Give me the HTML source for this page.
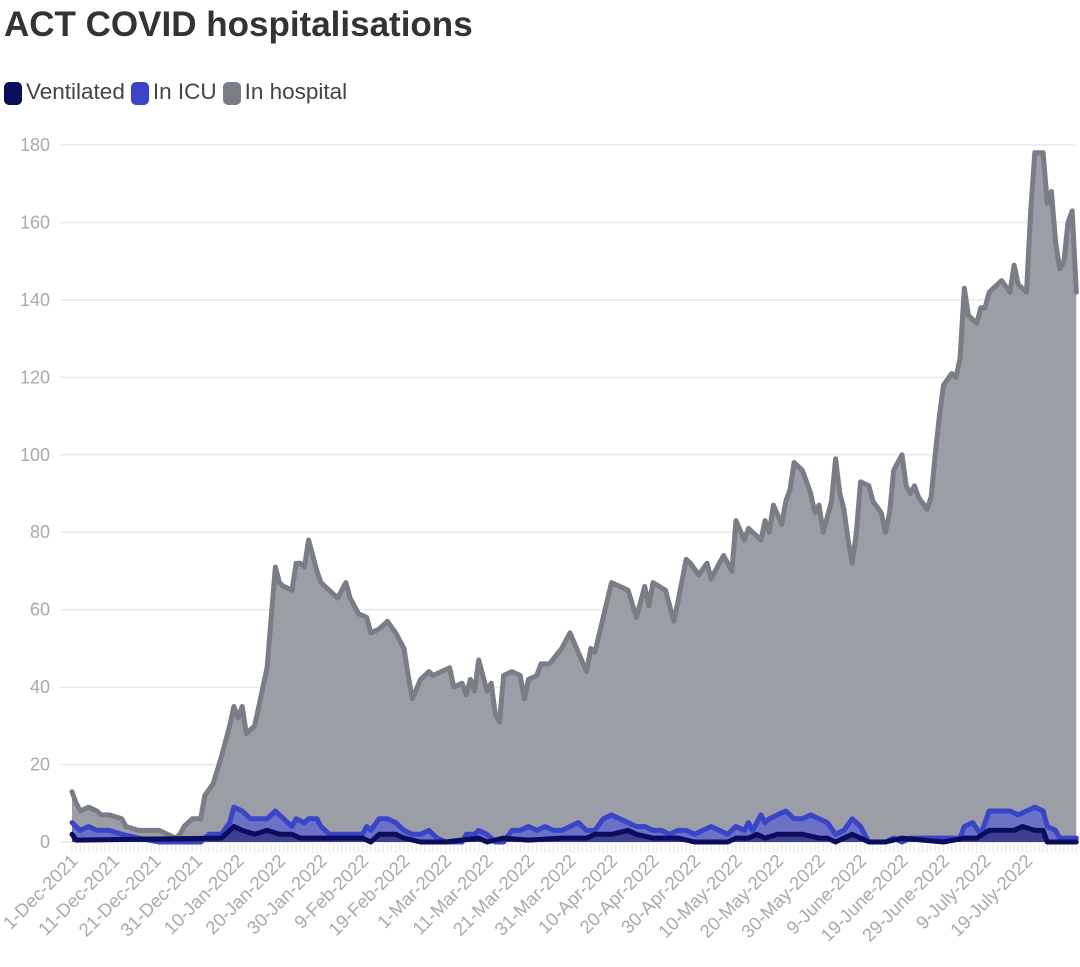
<!DOCTYPE html>
<html><head><meta charset="utf-8"><style>
body{margin:0;background:#fff;font-family:"Liberation Sans",sans-serif;}
#t{position:absolute;left:4px;top:5px;font-size:35px;font-weight:bold;color:#333;}
#lg{position:absolute;left:4px;top:79px;font-size:22.5px;color:#444;display:flex;gap:6px;align-items:center;}
.sw{display:inline-block;width:18px;height:23px;border-radius:5px;vertical-align:middle;margin-right:4px;}
</style></head><body>
<div id="t">ACT COVID hospitalisations</div>
<div id="lg">
<span><span class="sw" style="background:#0b0d5c"></span>Ventilated</span>
<span><span class="sw" style="background:#3a44c8"></span>In ICU</span>
<span><span class="sw" style="background:#7a7d85"></span>In hospital</span>
</div>
<svg id="c" width="1080" height="967" style="position:absolute;left:0;top:0"></svg>
<script>
const yTicks=[0,20,40,60,80,100,120,140,160,180];
const xTickDays=[0,10,20,30,40,50,60,70,80,90,100,110,120,130,140,150,160,170,180,190,200,210,220,230];
const xTickLabels=["1-Dec-2021","11-Dec-2021","21-Dec-2021","31-Dec-2021","10-Jan-2022","20-Jan-2022","30-Jan-2022","9-Feb-2022","19-Feb-2022","1-Mar-2022","11-Mar-2022","21-Mar-2022","31-Mar-2022","10-Apr-2022","20-Apr-2022","30-Apr-2022","10-May-2022","20-May-2022","30-May-2022","9-June-2022","19-June-2022","29-June-2022","9-July-2022","19-July-2022"];
const hospDays=[0,1,2,4,6,7,9,12,13,16,21,23,25,26,27,29,31,32,34,36,38,39,40,41,42,44,45,47,48,49,50,51,53,54,55,56,57,59,60,62,64,66,67,69,71,72,74,76,78,80,81,82,84,86,87,89,91,92,94,95,96,97,98,100,101,102,103,104,106,108,109,110,112,113,115,118,120,122,124,125,126,128,130,132,134,136,137,138,139,140,143,145,146,148,149,151,153,154,156,157,159,160,162,163,166,167,168,169,171,172,173,174,176,178,179,180,181,183,184,185,186,187,188,189,190,192,193,195,196,197,198,200,201,202,203,204,206,207,208,209,210,212,213,214,215,216,218,219,220,221,223,224,226,227,228,230,231,232,234,235,236,237,238,239,240,241,242];
const hospVals=[13,10,8,9,8,7,7,6,4,3,3,2,1,2,4,6,6,12,15,22,30,35,32,35,28,30,35,45,58,71,67,66,65,72,72,71,78,70,67,65,63,67,63,59,58,54,55,57,54,50,43,37,42,44,43,44,45,40,41,38,42,39,47,39,41,33,31,43,44,43,37,42,43,46,46,50,54,49,44,50,49,58,67,66,65,58,62,66,61,67,65,57,62,73,72,69,72,68,72,74,70,83,78,81,78,83,80,87,82,88,91,98,96,90,85,87,80,88,99,90,86,78,72,80,93,92,88,85,80,85,96,100,92,90,92,89,86,89,100,110,118,121,120,125,143,136,134,138,138,142,144,145,142,149,144,142,163,178,178,165,168,155,148,150,160,163,142];
const icuDays=[0,2,4,6,9,12,16,21,31,33,36,38,39,41,43,45,47,49,51,53,54,56,57,59,60,62,66,70,71,72,74,76,78,80,82,84,86,88,90,94,95,97,98,100,102,104,106,108,110,112,114,116,118,120,122,124,126,128,130,132,134,136,138,140,142,144,146,148,150,152,154,156,158,160,162,163,164,166,167,168,170,172,174,176,178,180,182,184,186,188,190,192,196,198,200,202,204,214,215,217,219,221,226,228,230,232,234,235,237,238,242];
const icuVals=[5,3,4,3,3,2,1,0,0,2,2,5,9,8,6,6,6,8,6,4,6,5,6,6,4,2,2,2,4,3,6,6,5,3,2,2,3,1,0,0,2,2,3,2,0,0,3,3,4,3,4,3,3,4,5,3,3,6,7,6,5,4,4,3,3,2,3,3,2,3,4,3,2,4,3,5,3,7,5,6,7,8,6,6,7,6,5,2,3,6,4,0,0,1,0,1,1,1,4,5,2,8,8,7,8,9,8,4,3,1,1];
const ventDays=[0,1,36,38,39,41,44,47,50,53,55,60,66,70,72,74,78,80,84,90,98,100,104,110,118,124,126,130,134,136,140,146,150,158,160,163,165,167,170,176,180,182,184,186,188,190,192,196,200,210,215,218,221,227,229,232,234,235,242];
const ventVals=[2,0.5,1,3,4,3,2,3,2,2,1,1,1,1,0,2,2,1,0,0,1,0,1,0.5,1,1,2,2,3,2,1,1,0,0,1,1,2,1,2,2,1,1,0,1,2,1,0,0,1,0,1,1,3,3,4,3,3,0,0];

const svg=document.getElementById('c');const NS='http://www.w3.org/2000/svg';
const X=d=>72+4.15*d, Y=v=>842-v*3.872;
function mk(tag,attrs,parent){const e=document.createElementNS(NS,tag);for(const k in attrs)e.setAttribute(k,attrs[k]);(parent||svg).appendChild(e);return e;}
yTicks.forEach(v=>{
  const g=mk('line',{x1:60,x2:1075,y1:Y(v),y2:Y(v),stroke:'#e8e8e8','stroke-width':1.5});
  
  
  const t=mk('text',{x:50,y:Y(v)+6,'text-anchor':'end','font-size':18,fill:'#aaa','font-family':'Liberation Sans, sans-serif'});
  t.textContent=v;
  
  
});
for(let d=0;d<=242;d++){const l=mk('line',{x1:X(d),x2:X(d),y1:843,y2:853,stroke:'#eeeeee','stroke-width':1.5});
  
  }
xTickDays.forEach((d,i)=>{
  const t=mk('text',{transform:`translate(${X(d)+7},862) rotate(-45)`,'text-anchor':'end','font-size':18.5,fill:'#aaa','font-family':'Liberation Sans, sans-serif'});
  t.textContent=xTickLabels[i];
  
  
});
function series(days,vals,fill,stroke,name){
  const pts=days.map((d,i)=>X(d).toFixed(1)+','+Y(vals[i]).toFixed(1));
  const a=mk('path',{d:'M'+X(days[0])+','+Y(0)+' L'+pts.join(' L')+' L'+X(days[days.length-1])+','+Y(0)+' Z',fill:fill});
  
  
  const l=mk('path',{d:'M'+pts.join(' L'),fill:'none',stroke:stroke,'stroke-width':5,'stroke-linejoin':'round','stroke-linecap':'round'});
  
  
}
series(hospDays,hospVals,'#9b9ea7','#7a7d85','in-hospital');
series(icuDays,icuVals,'rgba(90,98,210,0.75)','#3a44c8','in-icu');
series(ventDays,ventVals,'rgba(30,32,110,0.6)','#0b0d5c','ventilated');
</script>
</body></html>
